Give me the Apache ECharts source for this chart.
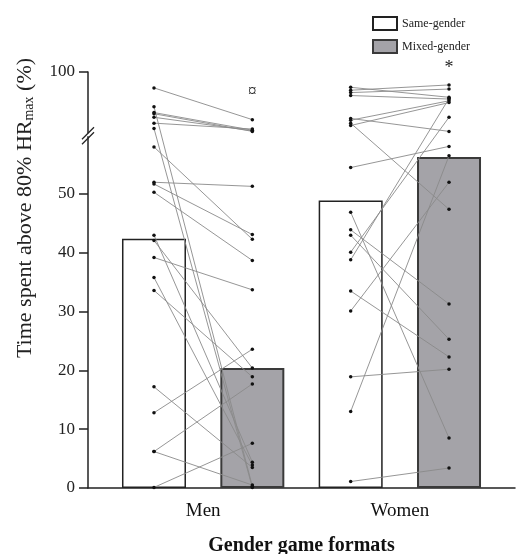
<!DOCTYPE html>
<html><head><meta charset="utf-8">
<script src="https://cdn.jsdelivr.net/npm/echarts@6.0.0/dist/echarts.min.js"></script>
<style>html,body{margin:0;padding:0;background:#fff}#c{width:523px;height:554px}</style>
</head><body><div id="c"></div>
<script>
// ---- data ----
const categories = ['Men', 'Women'];
const seriesNames = ['Same-gender', 'Mixed-gender'];
const barSame = [42.4, 48.9];
const barMixed = [20.4, 56.3];
// paired individual values (same-gender -> mixed-gender)
const menSame  = [97.3, 94.1, 93.1, 92.9, 92.3, 91.3, 90.4, 58.0, 52.0, 51.7, 50.3, 43.0, 42.1, 39.2, 35.8, 33.6, 17.2, 12.8, 6.2, 6.2, 0.1];
const menMixed = [91.9, 0.3, 90.1, 89.9, 90.0, 90.3, 0.1, 42.3, 51.3, 43.1, 38.7, 4.4, 20.4, 33.7, 3.9, 18.9, 3.5, 23.6, 17.7, 0.5, 7.6];
const womenSame  = [97.4, 96.9, 96.5, 96.0, 92.1, 91.8, 91.3, 90.9, 54.5, 46.9, 43.9, 43.0, 40.1, 38.8, 33.5, 30.1, 18.9, 13.0, 1.1];
const womenMixed = [95.7, 97.8, 97.1, 95.4, 89.9, 95.1, 47.4, 94.8, 58.1, 8.5, 31.3, 25.3, 92.3, 95.5, 22.3, 52.0, 20.2, 56.5, 3.4];
const yTicks = [0, 10, 20, 30, 40, 50, 100];
const yBreak = {start: 60, end: 89.25};
const yTitle = 'Time spent above 80% HR{s|max} (%)';
const xTitle = 'Gender game formats';
const markers = [
  {text: '\u00A4', cat: 0, value: 96.6},
  {text: '*', cat: 1, value: 100.6}
];

// ---- layout helpers ----
const OFF = 0.25;              // half distance between paired bars
const X_MIN = 0.4145, X_MAX = 2.5855;
const SERIF = '"Liberation Serif","DejaVu Serif","Times New Roman",serif';
const xOf = (cat, k) => cat + 1 + (k === 0 ? -OFF : OFF);

const series = [];
series.push({
  name: seriesNames[0], type: 'bar', barWidth: 64, barGap: '-100%',
  data: barSame.map((v, i) => [xOf(i, 0), v]),
  itemStyle: {color: '#ffffff', borderColor: '#222', borderWidth: 1.5},
  z: 1, silent: true
});
series.push({
  name: seriesNames[1], type: 'bar', barWidth: 64, barGap: '-100%',
  data: barMixed.map((v, i) => [xOf(i, 1), v]),
  itemStyle: {color: '#a4a3a8', borderColor: '#3a3a3a', borderWidth: 2},
  z: 1, silent: true
});
function pairs(same, mixed, cat) {
  same.forEach((s, k) => {
    series.push({
      type: 'line', silent: true, z: 3,
      data: [[xOf(cat, 0), s], [xOf(cat, 1), mixed[k]]],
      symbol: 'circle', symbolSize: 3.5, showSymbol: true,
      itemStyle: {color: '#111'},
      lineStyle: {color: '#8a8a8a', width: 0.9}
    });
  });
}
pairs(menSame, menMixed, 0);
pairs(womenSame, womenMixed, 1);

const chart = echarts.init(document.getElementById('c'), null, {renderer: 'canvas'});
chart.setOption({
  animation: false,
  backgroundColor: '#fff',
  grid: {left: 88, right: 8, top: 72, bottom: 66, containLabel: false, outerBoundsMode: 'none'},
  legend: {
    data: seriesNames, orient: 'vertical', left: 367, top: 11,
    itemWidth: 24, itemHeight: 13, itemGap: 8, icon: 'rect',
    textStyle: {fontFamily: SERIF, fontSize: 12, color: '#222'}
  },
  xAxis: {
    type: 'value', min: X_MIN, max: X_MAX,
    axisLine: {show: true, lineStyle: {color: '#222', width: 1.5}},
    axisTick: {show: false}, splitLine: {show: false},
    axisLabel: {
      customValues: [1, 2], margin: 14,
      formatter: v => categories[Math.round(v) - 1] || '',
      fontFamily: SERIF, fontSize: 19, color: '#111'
    },
    name: xTitle, nameLocation: 'middle', nameGap: 48,
    nameTextStyle: {fontFamily: SERIF, fontSize: 20, fontWeight: 'bold', color: '#111'}
  },
  yAxis: {
    type: 'value', min: 0, max: 100,
    breaks: [{start: yBreak.start, end: yBreak.end, gap: 0}],
    breakArea: {show: false},
    axisLine: {show: true, lineStyle: {color: '#222', width: 1.5}},
    axisTick: {show: true, customValues: yTicks, length: 9, lineStyle: {color: '#222', width: 1.5}},
    axisLabel: {customValues: yTicks, fontFamily: SERIF, fontSize: 17, color: '#222', margin: 13},
    splitLine: {show: false}
  },
  series: series
});

// decorations positioned from the axes
const ax = chart.convertToPixel({xAxisIndex: 0}, X_MIN);
const by = chart.convertToPixel({yAxisIndex: 0}, yBreak.start);
const yTop = chart.convertToPixel({yAxisIndex: 0}, 100);
const graphic = [];
[0, 5].forEach(d => {
  graphic.push({type: 'line', shape: {x1: ax - 6, y1: by + 9 - d, x2: ax + 6, y2: by - 3 - d},
    style: {stroke: '#222', lineWidth: 1.3}, z: 10});
});
graphic.push({type: 'rect', shape: {x: ax - 1.5, y: by - 2, width: 3, height: 3}, style: {fill: '#fff'}, z: 9});
markers.forEach(m => {
  const p = chart.convertToPixel({xAxisIndex: 0, yAxisIndex: 0}, [xOf(m.cat, 1), m.value]);
  graphic.push({type: 'text', x: p[0], y: p[1],
    style: {text: m.text, fontFamily: SERIF, fontSize: m.text === '*' ? 18 : 17, fill: '#222', align: 'center', verticalAlign: 'middle'}, z: 10});
});
// y-axis title (rotated), placed beside the upper part of the axis
graphic.push({
  type: 'text', x: ax - 63, y: yTop + 136, rotation: Math.PI / 2,
  style: {
    text: yTitle, fontFamily: SERIF, fontSize: 22, fill: '#222', align: 'center', verticalAlign: 'middle',
    rich: {s: {fontFamily: SERIF, fontSize: 14, fill: '#222', verticalAlign: 'bottom', padding: [8, 0, 0, 0]}}
  }, z: 10
});
chart.setOption({graphic: graphic});
</script>
</body></html>
